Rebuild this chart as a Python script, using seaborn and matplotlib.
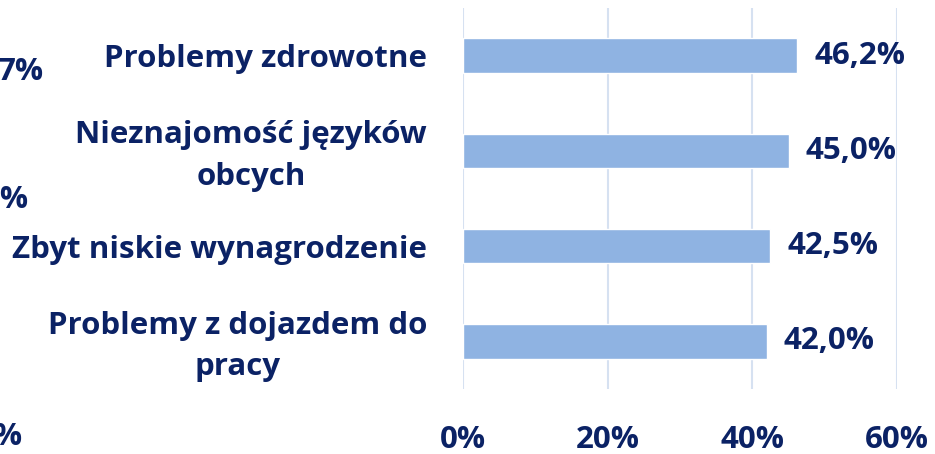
import matplotlib
matplotlib.use("Agg")
import matplotlib.pyplot as plt
import matplotlib.transforms as mtransforms
import seaborn as sns
import pandas as pd

categories = ["Problemy zdrowotne", "Nieznajomość języków\nobcych",
              "Zbyt niskie wynagrodzenie", "Problemy z dojazdem do\npracy"]
values = [46.2, 45.0, 42.5, 42.0]
value_labels = ["46,2%", "45,0%", "42,5%", "42,0%"]
xticks = [0, 20, 40, 60]
xtick_labels = ["0%", "20%", "40%", "60%"]
left_fragments = ["7%", "0%", "0%"]

sns.set_theme(style="white")
plt.rcParams['font.family'] = ['Open Sans', 'DejaVu Sans']

navy = "#0B2265"
bar_color = "#8FB3E2"
grid_color = "#D6E1F1"
fs = 22.5

fig = plt.figure(figsize=(9.35, 4.54), dpi=100)
ax = fig.add_axes([463/935, 1-389/454, (897-463)/935, (389-8)/454])

df = pd.DataFrame({"cat": categories, "val": values})
sns.barplot(data=df, x="val", y="cat", color=bar_color, width=0.36,
            saturation=1, ax=ax, zorder=3)

ax.set_xlim(0, 60)
ax.set_xticks(xticks)
ax.set_xticklabels(xtick_labels)
ax.xaxis.grid(True, color=grid_color, linewidth=1.5, zorder=0)
ax.set_axisbelow(True)
for s in ax.spines.values():
    s.set_visible(False)
ax.set_xlabel("")
ax.set_ylabel("")
ax.tick_params(axis='x', length=0, pad=26, labelsize=fs, labelcolor=navy)
ax.tick_params(axis='y', length=0, pad=26, labelsize=fs, labelcolor=navy)
for t in ax.get_xticklabels() + ax.get_yticklabels():
    t.set_fontweight('bold')
shift = mtransforms.ScaledTranslation(0, 4/100, fig.dpi_scale_trans)
for t in ax.get_yticklabels():
    t.set_multialignment('center')
    t.set_linespacing(1.5)
    if "\n" in t.get_text():
        t.set_transform(t.get_transform() + shift)

for i, (v, lab) in enumerate(zip(values, value_labels)):
    ax.annotate(lab, xy=(v, i), xytext=(17, 0), textcoords='offset pixels',
                ha='left', va='center', fontsize=fs, fontweight='bold',
                color=navy, annotation_clip=False)

frag_pos = [(43, 72), (29, 200), (23, 437)]
for txt, (px, py) in zip(left_fragments, frag_pos):
    fig.text(px/935, 1-py/454, txt, ha='right', va='center', fontsize=fs,
             fontweight='bold', color=navy)

fig.savefig("out.png", dpi=100, facecolor='white')
